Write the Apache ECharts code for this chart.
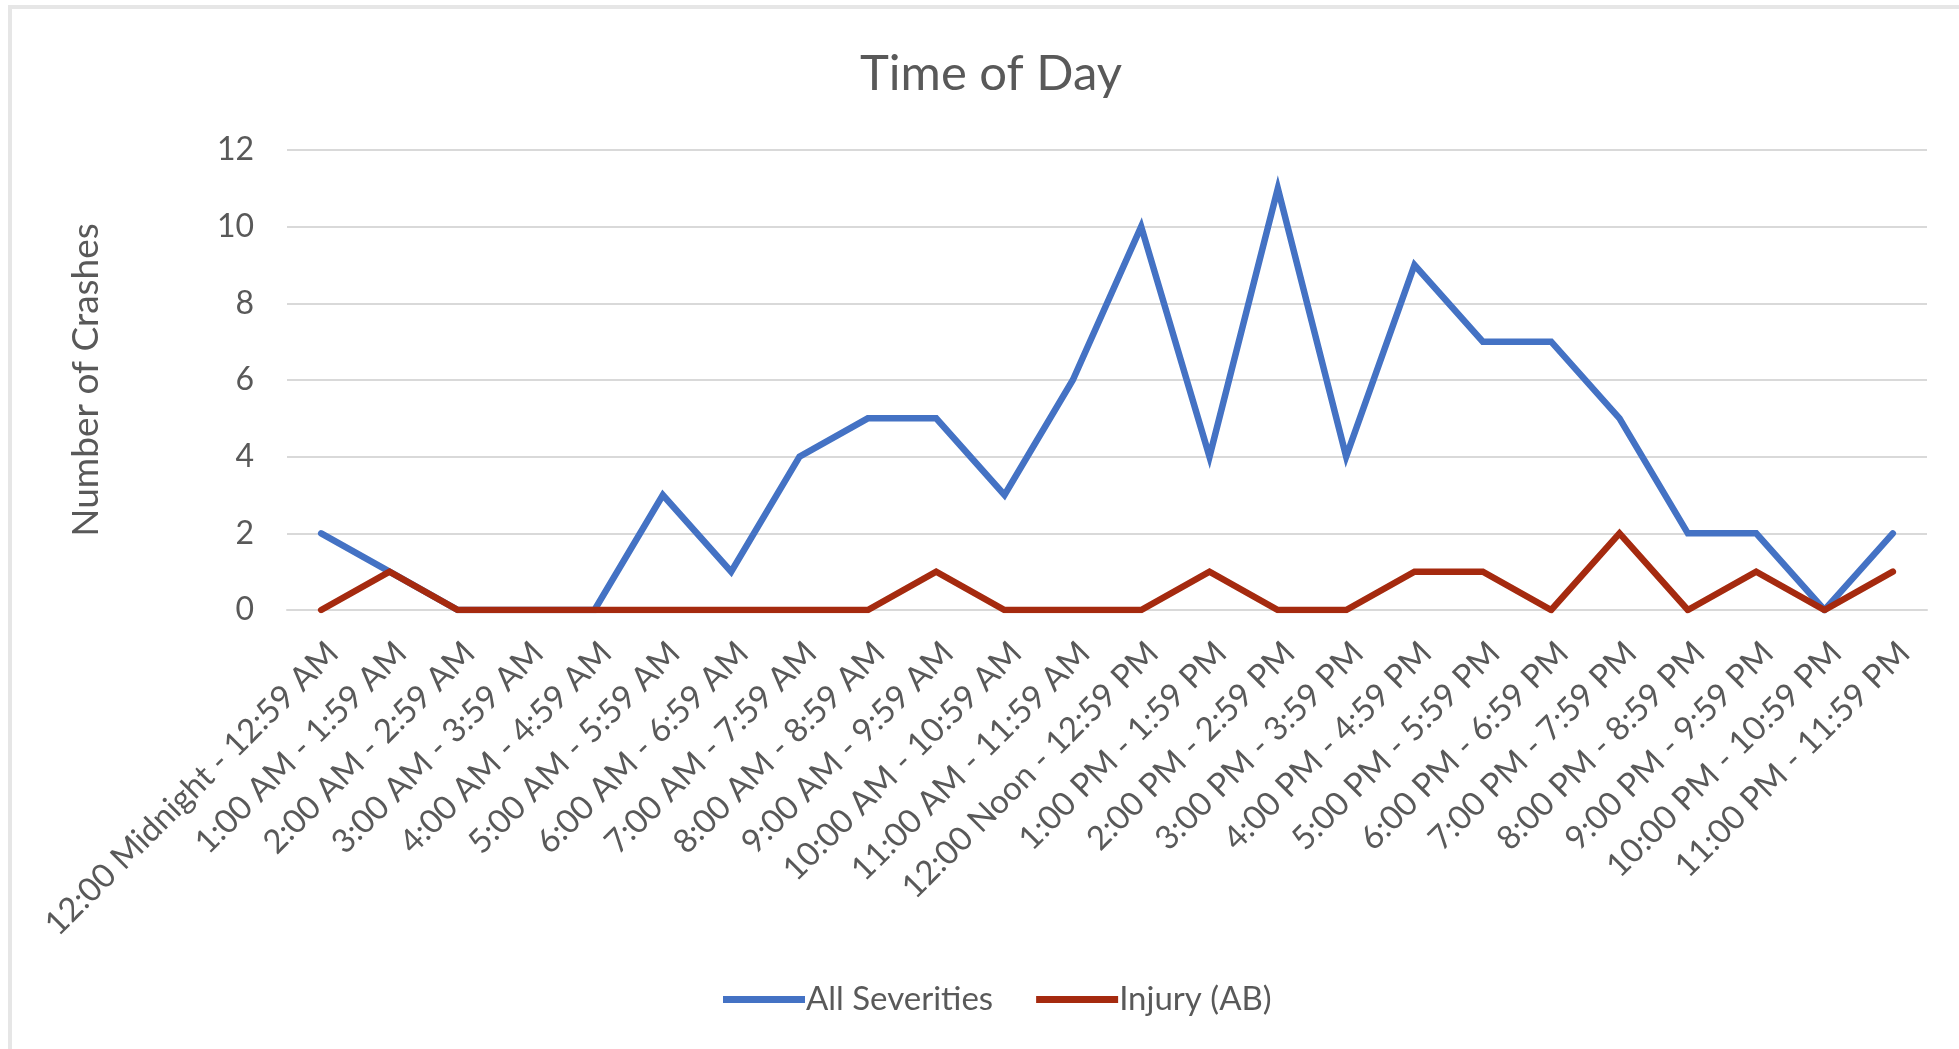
<!DOCTYPE html>
<html>
<head>
<meta charset="utf-8">
<script src="https://cdn.jsdelivr.net/npm/echarts@6/dist/echarts.min.js"></script>
<style>
html,body{margin:0;padding:0;background:#fff;}
#chart{width:1959px;height:1049px;}
</style>
</head>
<body>
<div id="chart"></div>
<script>
var categories = [
  "12:00 Midnight - 12:59 AM","1:00 AM - 1:59 AM","2:00 AM - 2:59 AM","3:00 AM - 3:59 AM",
  "4:00 AM - 4:59 AM","5:00 AM - 5:59 AM","6:00 AM - 6:59 AM","7:00 AM - 7:59 AM",
  "8:00 AM - 8:59 AM","9:00 AM - 9:59 AM","10:00 AM - 10:59 AM","11:00 AM - 11:59 AM",
  "12:00 Noon - 12:59 PM","1:00 PM - 1:59 PM","2:00 PM - 2:59 PM","3:00 PM - 3:59 PM",
  "4:00 PM - 4:59 PM","5:00 PM - 5:59 PM","6:00 PM - 6:59 PM","7:00 PM - 7:59 PM",
  "8:00 PM - 8:59 PM","9:00 PM - 9:59 PM","10:00 PM - 10:59 PM","11:00 PM - 11:59 PM"
];
var allSeverities = [2,1,0,0,0,3,1,4,5,5,3,6,10,4,11,4,9,7,7,5,2,2,0,2];
var injuryAB = [0,1,0,0,0,0,0,0,0,1,0,0,0,1,0,0,1,1,0,2,0,1,0,1];
var seriesNames = ["All Severities","Injury (AB)"];
var yTicks = {min:0, max:12, interval:2};

var FONT = "Lato";
var chart = echarts.init(document.getElementById('chart'), null, {renderer:'canvas'});
chart.setOption({
  animation:false,
  backgroundColor:'#ffffff',
  graphic:[{
    type:'rect', silent:true, z:-10,
    shape:{x:10,y:7,width:2100,height:1200},
    style:{fill:'none',stroke:'#E6E6E6',lineWidth:4}
  }],
  title:{
    text:'Time of Day',
    left:986, top:45, textAlign:'center',
    textStyle:{fontFamily:FONT,fontSize:49,fontWeight:'normal',color:'#595959'}
  },
  legend:{
    left:718, top:978,
    itemWidth:82, itemHeight:7, itemGap:43,
    data:[{name:seriesNames[0],icon:'rect'},{name:seriesNames[1],icon:'rect'}],
    textStyle:{fontFamily:FONT,fontSize:33,color:'#595959',padding:[0,0,0,-4]}
  },
  grid:{left:287,right:32,top:150,bottom:439,containLabel:false},
  xAxis:{
    type:'category', data:categories, boundaryGap:true,
    axisLine:{show:true,lineStyle:{color:'#D9D9D9',width:2}},
    axisTick:{show:false},
    axisLabel:{rotate:45,interval:0,margin:26,verticalAlign:'top',
      fontFamily:FONT,fontSize:33,color:'#595959'}
  },
  yAxis:{
    type:'value', min:yTicks.min, max:yTicks.max, interval:yTicks.interval,
    name:'Number of Crashes', nameLocation:'middle', nameGap:182,
    nameTextStyle:{fontFamily:FONT,fontSize:37,color:'#595959'},
    axisLine:{show:false}, axisTick:{show:false},
    axisLabel:{margin:33,fontFamily:FONT,fontSize:32,color:'#595959'},
    splitLine:{lineStyle:{color:'#D9D9D9',width:2}}
  },
  series:[
    {name:seriesNames[0],type:'line',data:allSeverities,showSymbol:false,symbol:'none',
     itemStyle:{color:'#4472C4'},
     lineStyle:{color:'#4472C4',width:6.5,join:'miter',cap:'round'}},
    {name:seriesNames[1],type:'line',data:injuryAB,showSymbol:false,symbol:'none',
     itemStyle:{color:'#A52A0F'},
     lineStyle:{color:'#A52A0F',width:6.5,join:'miter',cap:'round'}}
  ]
});
</script>
</body>
</html>
